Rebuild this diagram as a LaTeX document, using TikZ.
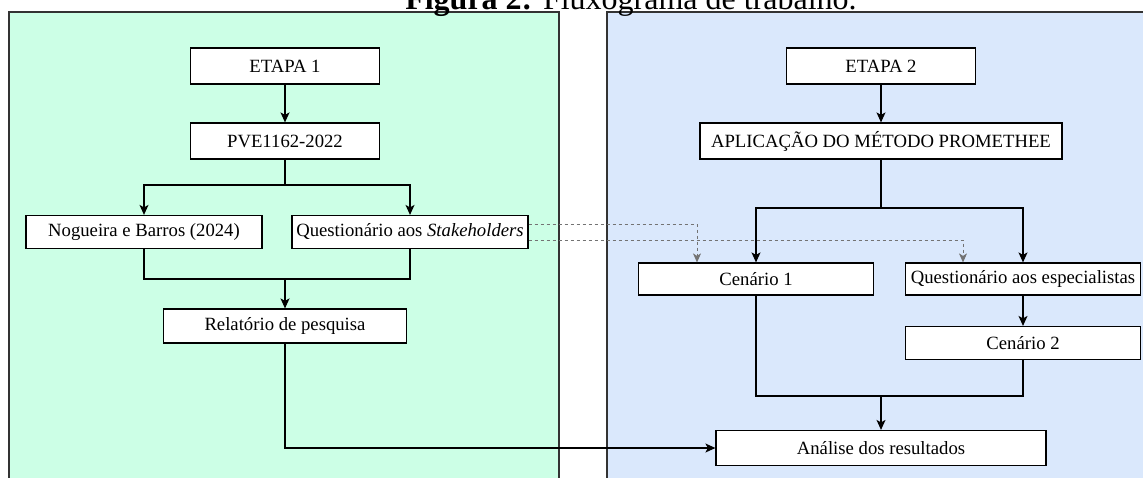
\documentclass[tikz,border=0pt]{standalone}
\usepackage{fontspec}
\setmainfont{Liberation Serif}
\usetikzlibrary{arrows.meta}
\definecolor{etapagreen}{RGB}{204,255,230}
\definecolor{etapablue}{RGB}{218,232,252}
\begin{document}
\begin{tikzpicture}[x=1pt,y=-1pt,
  box/.style={draw=black,line width=1.2pt,fill=white,inner sep=0pt,font=\fontsize{18.7}{22}\selectfont},
  wire/.style={draw=black,line width=1.2pt},
  arr/.style={wire,-{Stealth[length=10pt,width=9pt,inset=2.5pt]}},
  dashwire/.style={draw=black!55,line width=1pt,dash pattern=on 3pt off 3pt,-{Stealth[length=9pt,width=8pt,inset=2.5pt]}}]
\useasboundingbox (0,0) rectangle (1143,477);
\draw [draw=black!80,line width=1.2pt,fill=etapagreen] (9,12) rectangle (559,490);
\draw [draw=black!80,line width=1.2pt,fill=etapablue] (607,12) rectangle (1150,490);
\node [anchor=base,font=\fontsize{32}{38}\selectfont] (title) at (631,9) {\textbf{Figura 2:} Fluxograma de trabalho.};
\node [box,minimum width=189pt,minimum height=36pt] (etapa1) at (285,66) {ETAPA 1};
\node [box,minimum width=189pt,minimum height=36pt] (pve) at (285,141) {PVE1162-2022};
\node [box,minimum width=236pt,minimum height=33pt] (nogueira) at (144,232) {Nogueira e Barros (2024)};
\node [box,minimum width=236pt,minimum height=33pt] (questA) at (410,232) {Questionário aos \textit{Stakeholders}};
\node [box,minimum width=243pt,minimum height=34pt] (relatorio) at (285,326) {Relatório de pesquisa};
\node [box,minimum width=189pt,minimum height=36pt] (etapa2) at (881,66) {ETAPA 2};
\node [box,minimum width=362pt,minimum height=36pt] (aplic) at (881,141) {APLICAÇÃO DO MÉTODO PROMETHEE};
\node [box,minimum width=235pt,minimum height=32pt] (cen1) at (756,279) {Cenário 1};
\node [box,minimum width=235pt,minimum height=32pt] (questE) at (1023,279) {Questionário aos especialistas};
\node [box,minimum width=235pt,minimum height=33pt] (cen2) at (1023,343) {Cenário 2};
\node [box,minimum width=330pt,minimum height=35pt] (analise) at (881,448) {Análise dos resultados};
\coordinate (b1) at (285,185);
\coordinate (m1) at (285,279);
\coordinate (b2) at (881,208);
\coordinate (m2) at (881,396);
\draw [arr] (etapa1) -- (pve);
\draw [wire] (pve.south) -- (b1);
\draw [arr] (b1) -| (nogueira.north);
\draw [arr] (b1) -| (questA.north);
\draw [wire] (nogueira.south) |- (questA.south |- m1) -- (questA.south);
\draw [arr] (m1) -- (relatorio.north);
\draw [arr] (relatorio.south) |- (analise.west);
\draw [arr] (etapa2) -- (aplic);
\draw [wire] (aplic.south) -- (b2);
\draw [arr] (b2) -| (cen1.north);
\draw [arr] (b2) -| (questE.north);
\draw [arr] (questE) -- (cen2);
\draw [wire] (cen1.south) |- (cen2.south |- m2) -- (cen2.south);
\draw [arr] (m2) -- (analise.north);
\draw [dashwire] ([yshift=-8pt]questA.east) -| ([xshift=-60pt]questE.north);
\draw [dashwire] ([yshift=8pt]questA.east) -| ([xshift=-59pt]cen1.north);
\end{tikzpicture}
\end{document}
